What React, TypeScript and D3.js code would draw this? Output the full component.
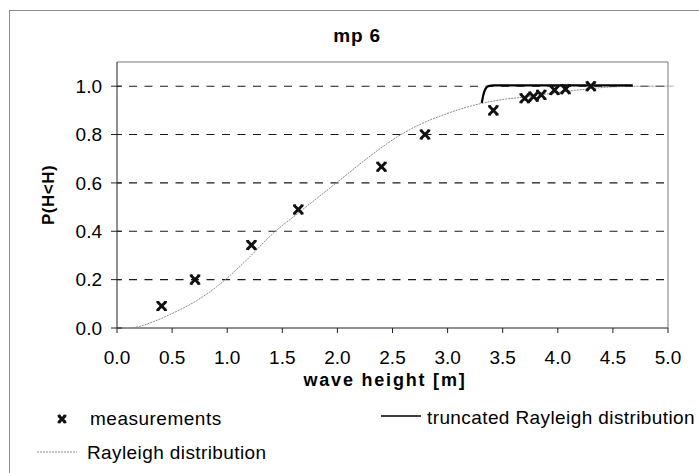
import React from "react";
import * as d3 from "d3";

// measured cumulative probabilities
const measH = [0.405, 0.708, 1.22, 1.645, 2.4, 2.795, 3.415, 3.7, 3.78, 3.85, 3.97, 4.07, 4.3];
const measP = [0.091, 0.2, 0.343, 0.49, 0.667, 0.8, 0.9, 0.95, 0.957, 0.964, 0.984, 0.988, 1.0];

// Rayleigh distribution curve
const rayH = [0.118, 0.2, 0.33, 0.5, 0.708, 0.905, 1.146, 1.418, 1.66, 2.024, 2.3, 2.538, 2.75, 2.99, 3.31, 3.5, 3.7, 3.9, 4.2, 4.5, 4.8, 5.05];
const rayP = [0.0, 0.006, 0.026, 0.06, 0.109, 0.171, 0.268, 0.392, 0.481, 0.612, 0.712, 0.789, 0.842, 0.886, 0.929, 0.945, 0.955, 0.968, 0.985, 0.997, 1.0, 1.0];

// truncated Rayleigh distribution (upper part)
const truncH = [3.31, 3.325, 3.345, 3.37, 3.42, 4.68];
const truncP = [0.931, 0.965, 0.99, 1.0, 1.003, 1.003];

const xTicks = [0, 0.5, 1, 1.5, 2, 2.5, 3, 3.5, 4, 4.5, 5];
const yTicks = [0, 0.2, 0.4, 0.6, 0.8, 1.0];

const W = 699;
const H = 473;
const FONT = "'Liberation Sans', Arial, sans-serif";

const x = d3.scaleLinear().domain([0, 5]).range([117, 668]);
const y = d3.scaleLinear().domain([0, 1.1]).range([328, 62]);

function Cross({ cx, cy, s = 4 }: { cx: number; cy: number; s?: number }) {
  return (
    <g transform={`translate(${cx},${cy})`} stroke="#111" fill="none">
      <path d={`M${-s},${-s}L${s},${s}M${s},${-s}L${-s},${s}`} strokeWidth={2.9} />
      <path
        d={`M${-s - 1},${-s}H${-s + 2}M${s - 2},${-s}H${s + 1}M${-s - 1},${s}H${-s + 2}M${s - 2},${s}H${s + 1}`}
        strokeWidth={1.5}
      />
    </g>
  );
}

export default function App() {
  const line = d3
    .line<[number, number]>()
    .x((d) => x(d[0]))
    .y((d) => y(d[1]))
    .curve(d3.curveMonotoneX);

  const rayPath = line(rayH.map((h, i) => [h, rayP[i]] as [number, number])) || "";
  const truncPath = line(truncH.map((h, i) => [h, truncP[i]] as [number, number])) || "";

  return (
    <svg
      width={W}
      height={H}
      style={{ position: "absolute", left: 0, top: 0, background: "#fff" }}
      fontFamily={FONT}
    >
      {/* chart frame */}
      <rect x={9.5} y={10.5} width={720} height={500} fill="none" stroke="#8c8c8c" strokeWidth={1} />

      {/* title */}
      <text x={357} y={42} textAnchor="middle" fontSize={19} fontWeight="bold" letterSpacing={0.8}>
        mp 6
      </text>

      {/* plot area border (top, right) */}
      <path d={`M${x(0)},${y(1.1)}H${x(5)}V${y(0)}`} fill="none" stroke="#777" strokeWidth={1} />

      {/* dashed gridlines */}
      {yTicks.slice(1).map((t) => (
        <line
          key={"g" + t}
          x1={x(0)}
          x2={x(5)}
          y1={y(t)}
          y2={y(t)}
          stroke="#1a1a1a"
          strokeWidth={1.1}
          strokeDasharray="8,7.5"
          strokeDashoffset={-12}
        />
      ))}

      {/* axes */}
      <line x1={x(0)} x2={x(0)} y1={y(1.1)} y2={y(0)} stroke="#222" strokeWidth={1} />
      <line x1={x(0)} x2={x(5)} y1={y(0)} y2={y(0)} stroke="#222" strokeWidth={1} />
      {yTicks.map((t) => (
        <g key={"y" + t}>
          <line x1={x(0) - 6} x2={x(0) + 5} y1={y(t)} y2={y(t)} stroke="#222" strokeWidth={1} />
          <text x={102} y={y(t)} dy="0.36em" textAnchor="end" fontSize={19}>
            {t.toFixed(1)}
          </text>
        </g>
      ))}
      {xTicks.map((t) => (
        <g key={"x" + t}>
          <line x1={x(t)} x2={x(t)} y1={y(0)} y2={y(0) + 5} stroke="#222" strokeWidth={1} />
          <text x={x(t)} y={364} textAnchor="middle" fontSize={19}>
            {t.toFixed(1)}
          </text>
        </g>
      ))}

      {/* axis titles */}
      <text x={385} y={386} textAnchor="middle" fontSize={18} fontWeight="bold" letterSpacing={1.8}>
        wave height [m]
      </text>
      <text
        transform={`translate(54,195) rotate(-90)`}
        textAnchor="middle"
        fontSize={17}
        fontWeight="bold"
        letterSpacing={0.5}
      >
        P(H&lt;H)
      </text>

      {/* Rayleigh distribution */}
      <path d={rayPath} fill="none" stroke="#8a8a8a" strokeWidth={1} strokeDasharray="2,1" />

      {/* truncated Rayleigh distribution */}
      <path d={truncPath} fill="none" stroke="#000" strokeWidth={2.2} />

      {/* measurements */}
      {measH.map((h, i) => (
        <Cross key={"m" + i} cx={x(h)} cy={y(measP[i])} s={4.3} />
      ))}

      {/* legend */}
      <Cross cx={62} cy={419} s={3.4} />
      <text x={90} y={425} fontSize={19} letterSpacing={0.5}>
        measurements
      </text>
      <line x1={381} x2={421} y1={416} y2={416} stroke="#000" strokeWidth={1.5} />
      <text x={427} y={424} fontSize={19} letterSpacing={0.4}>
        truncated Rayleigh distribution
      </text>
      <line x1={37} x2={77} y1={452} y2={452} stroke="#8a8a8a" strokeWidth={1} strokeDasharray="2,1" />
      <text x={87} y={459} fontSize={19} letterSpacing={0.4}>
        Rayleigh distribution
      </text>
    </svg>
  );
}
